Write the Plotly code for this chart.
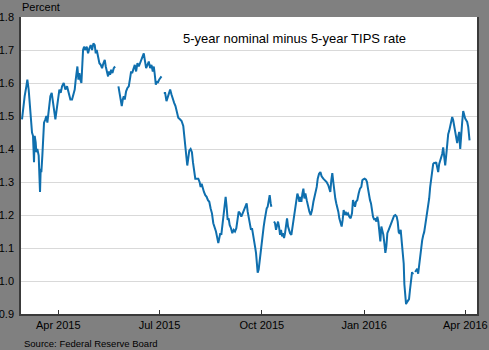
import pandas as pd
import plotly.graph_objects as go

base_date = "2015-04-01"
# observation time, days from 2015-04-01 (None values mark market holidays)
day_offset = [
    -32.6, -31.7, -30.2, -28.7, -27.8, -26.6, -25.7, -24.8, -24.2, -23.6, -22.7, -22.1, -21.8, -21.2,
    -20.3, -19.7, -18.8, -17.6, -17.0, -16.4, -15.8, -15.2, -14.3, -13.4, -12.8, -11.6, -10.7, -9.8,
    -8.6, -7.1, -5.9, -4.7, -3.8, -2.6, -1.4, -0.2, 1.0, 2.2, 3.4, 4.9, 6.4, 7.9, 9.4, 10.9, 12.4,
    13.6, 14.8, 15.7, 16.6, 17.2, 18.1, 19.0, 19.9, 20.8, 21.7, 22.3, 23.2, 24.4, 25.6, 26.8, 28.0,
    29.2, 30.4, 31.6, 32.8, 33.7, 34.6, 35.8, 37.0, 38.2, 39.4, 40.6, 41.8, 42.7, 43.9, 44.8, 45.7,
    46.6, 47.5, 48.7, 49.9, 51.1, 52.5, 54.1, 55.0, 55.9, 57.1, 58.0, 58.9, 59.8, 61.0, 62.2, 63.4,
    64.6, 65.5, 66.4, 67.6, 68.8, 70.0, 71.2, 72.4, 73.6, 74.8, 76.0, 76.9, 77.8, 79.0, 80.2, 81.4,
    82.6, 83.8, 85.0, 85.9, 86.8, 87.7, 88.6, 89.5, 90.7, 91.9, 92.8, 93.8, 94.9, 96.1, 97.3, 98.5,
    99.4, 100.6, 101.8, 103.0, 104.2, 105.4, 106.6, 107.9, 109.4, 110.9, 112.4, 113.3, 114.2, 115.1,
    116.0, 116.9, 117.8, 119.0, 120.2, 121.1, 122.0, 123.2, 124.4, 125.9, 127.1, 128.0, 128.9, 129.8,
    131.0, 132.2, 133.4, 134.6, 135.8, 137.0, 138.2, 139.4, 140.6, 141.8, 143.0, 143.9, 144.8, 145.7,
    146.6, 147.5, 148.4, 149.3, 150.5, 151.4, 152.3, 153.2, 154.1, 155.3, 156.5, 157.7, 158.9, 160.1,
    161.3, 162.2, 163.4, 164.6, 165.8, 167.0, 168.2, 169.4, 170.3, 171.5, 172.4, 173.3, 174.2, 175.1,
    176.0, 176.9, 177.8, 178.7, 179.3, 180.2, 181.1, 182.0, 182.9, 183.8, 184.7, 185.6, 186.5, 187.4,
    188.3, 189.2, 190.1, 191.0, 191.6, 192.8, 194.0, 194.9, 195.8, 196.7, 197.6, 198.5, 199.4, 200.3,
    201.2, 202.1, 203.0, 203.9, 204.8, 205.7, 206.6, 207.5, 208.4, 209.6, 210.8, 212.0, 213.2, 214.1,
    215.0, 215.9, 216.8, 217.7, 218.6, 219.5, 220.4, 221.3, 222.2, 223.4, 224.6, 225.8, 227.0, 228.2,
    229.4, 230.6, 231.5, 232.4, 233.3, 234.5, 235.7, 236.8, 238.3, 239.8, 241.3, 242.8, 243.7, 244.6,
    245.5, 246.4, 247.3, 248.2, 249.1, 250.0, 250.9, 251.8, 252.7, 253.9, 254.8, 255.7, 256.6, 257.5,
    258.4, 259.3, 260.5, 261.7, 262.9, 264.1, 265.0, 265.9, 266.8, 267.7, 268.9, 270.1, 271.3, 272.5,
    273.4, 274.3, 275.5, 276.7, 277.6, 278.5, 279.4, 280.3, 281.2, 282.1, 283.0, 284.2, 285.1, 286.0,
    286.9, 287.8, 288.7, 289.6, 290.5, 291.4, 292.3, 293.2, 294.1, 295.0, 295.9, 297.1, 298.3, 299.5,
    300.7, 301.9, 303.1, 304.3, 305.2, 306.1, 307.0, 307.9, 308.8, 309.7, 310.6, 311.2, 312.1, 312.7,
    313.6, 314.5, 315.4, 316.3, 317.2, 318.1, 319.0, 320.0, 320.9, 321.8, 322.7, 323.6, 324.5, 325.4,
    326.3, 327.2, 328.1, 329.0, 329.9, 330.8, 331.7, 332.6, 333.5, 334.4, 335.3, 336.2, 337.1, 338.0,
    338.9, 339.8, 340.7, 341.6, 342.5, 343.4, 344.3, 345.2, 346.1, 347.0, 347.9, 348.8, 349.7, 350.6,
    351.5, 352.4, 353.3, 354.2, 355.1, 356.0, 356.9, 357.8, 358.7, 359.6, 360.5, 361.4, 362.3, 363.2,
    364.1, 365.0, 365.9, 366.8, 367.7, 368.6, 369.5, 369.8,
]
spread = [
    1.49, 1.52, 1.56, 1.59, 1.61, 1.58, 1.54, 1.53, 1.50, 1.45, 1.44, 1.39, 1.36, 1.44,
    1.42, 1.39, 1.40, 1.38, 1.33, 1.27, 1.34, 1.33, 1.38, 1.46, 1.48, 1.49, 1.50, 1.48,
    1.52, 1.56, 1.57, 1.54, 1.51, 1.49, 1.52, 1.56, 1.58, 1.57, 1.59, 1.60, 1.58, 1.59, 1.57, 1.55, 1.55,
    1.57, 1.58, 1.61, 1.63, 1.65, 1.61, 1.63, 1.61, 1.60, 1.66, 1.70, 1.71, 1.70, 1.71, 1.69, 1.705,
    1.715, 1.70, 1.72, 1.715, 1.69, 1.70, 1.675, 1.66, 1.655, 1.645, 1.66, 1.67, 1.65, 1.635, 1.62, 1.635,
    1.625, 1.64, 1.63, 1.645, 1.65, None, 1.59, 1.57, 1.55, 1.53, 1.55, 1.56, 1.55, 1.575, 1.585, 1.59,
    1.615, 1.635, 1.63, 1.645, 1.655, 1.635, 1.66, 1.65, 1.66, 1.67, 1.68, 1.69, 1.67, 1.645, 1.655, 1.665,
    1.645, 1.655, 1.635, 1.65, 1.625, 1.595, 1.605, 1.60, 1.61, 1.615, 1.62, None, 1.57, 1.57, 1.545, 1.56,
    1.57, 1.58, 1.565, 1.55, 1.54, 1.53, 1.515, 1.495, 1.49, 1.485, 1.47, 1.445, 1.41, 1.38,
    1.35, 1.38, 1.395, 1.40, 1.39, 1.36, 1.33, 1.31, 1.31, 1.31, 1.30, 1.285, 1.295, 1.28,
    1.27, 1.26, 1.255, 1.245, 1.24, 1.22, 1.205, 1.175, 1.165, 1.15, 1.13, 1.115, 1.13, 1.145,
    1.14, 1.165, 1.195, 1.22, 1.255, 1.225, 1.185, 1.19, 1.17, 1.16, 1.145, 1.155, 1.15, 1.16,
    1.195, 1.21, 1.205, 1.195, 1.205, 1.215, 1.22, 1.235, 1.21, 1.185, 1.17, 1.155, 1.16, 1.145,
    1.125, 1.105, 1.085, 1.045, 1.025, 1.035, 1.065, 1.09, 1.12, 1.145, 1.165, 1.185, 1.21, 1.22,
    1.225, 1.245, 1.26, 1.235, 1.225, None, 1.18, 1.175, 1.155, 1.17, 1.18, 1.165, 1.14, 1.155,
    1.135, 1.145, 1.13, 1.145, 1.165, 1.19, 1.165, 1.15, 1.145, 1.14, 1.165, 1.19, 1.215, 1.245,
    1.265, 1.255, 1.24, 1.255, 1.24, 1.265, 1.28, 1.25, 1.265, 1.245, 1.225, 1.21, 1.20, 1.215,
    1.24, 1.255, 1.27, 1.285, 1.31, 1.325, 1.33, 1.317, 1.31, 1.305, 1.30, 1.29, 1.277, 1.27,
    1.305, 1.327, 1.30, 1.265, 1.25, 1.235, 1.225, 1.21, 1.19, 1.172, 1.165, 1.185, 1.215, 1.20,
    1.21, 1.20, 1.205, 1.195, 1.19, 1.205, 1.245, 1.235, 1.225, 1.24, 1.245, 1.265, 1.28, 1.285,
    1.305, 1.308, 1.31, 1.307, 1.30, 1.28, 1.255, 1.245, 1.235, 1.215, 1.195, 1.185, 1.19, 1.18,
    1.195, 1.18, 1.145, 1.12, 1.165, 1.155, 1.14, 1.115, 1.085, 1.105, 1.145, 1.155, 1.165, 1.175,
    1.185, 1.197, 1.20, 1.195, 1.18, 1.148, 1.143, 1.155, 1.12, 1.088, 1.053, 0.99, 0.95, 0.93,
    0.936, 0.94, 0.945, 0.975, 1.01, 1.027, 1.02, None, 1.027, 1.032, 1.037, 1.022, 1.047, 1.083,
    1.113, 1.123, 1.138, 1.148, 1.168, 1.19, 1.204, 1.224, 1.25, 1.285, 1.315, 1.345, 1.355, 1.358,
    1.357, 1.36, 1.345, 1.33, 1.355, 1.365, 1.375, 1.385, 1.405, 1.37, 1.35, 1.38, 1.415, 1.445,
    1.455, 1.47, 1.48, 1.497, 1.487, 1.467, 1.445, 1.43, 1.418, 1.437, 1.452, 1.40, 1.43, 1.482,
    1.515, 1.502, 1.492, 1.487, 1.482, 1.467, 1.43, 1.426,
]
tick_dates = ["2015-04-01", "2015-07-01", "2015-10-01", "2016-01-01", "2016-04-01"]
tick_labels = ["Apr 2015", "Jul 2015", "Oct 2015", "Jan 2016", "Apr 2016"]
y_ticks = [0.9, 1.0, 1.1, 1.2, 1.3, 1.4, 1.5, 1.6, 1.7, 1.8]

dates = pd.Timestamp(base_date) + pd.to_timedelta(day_offset, unit="D")

fig = go.Figure()
fig.add_trace(go.Scatter(
    x=dates, y=spread, mode="lines", connectgaps=False,
    line=dict(color="#0f6fae", width=2), showlegend=False,
))

FONT = "Liberation Sans, Arial, sans-serif"
fig.update_layout(
    width=489, height=350,
    margin=dict(l=21, r=12, t=17, b=36),
    paper_bgcolor="#808080", plot_bgcolor="#ffffff",
    font=dict(family=FONT, color="#000000", size=12),
    xaxis=dict(
        type="date", range=["2015-02-26 12:00", "2016-04-11 12:00"],
        tickvals=tick_dates, ticktext=tick_labels, automargin=False,
        ticks="inside", ticklen=4, tickcolor="#333333",
        showgrid=False, zeroline=False,
        showline=True, linecolor="#3a3a3a", linewidth=1.5,
        tickfont=dict(size=11, family=FONT),
    ),
    yaxis=dict(
        range=[0.9, 1.8], tickvals=y_ticks, ticktext=[f"{v:.1f}" for v in y_ticks],
        ticks="", showgrid=True, gridcolor="#d9d9d9", gridwidth=1, automargin=False,
        zeroline=False, showline=True, mirror=True, linecolor="#3a3a3a", linewidth=1.5,
        tickfont=dict(size=11, family=FONT), ticklabelstandoff=3,
    ),
    annotations=[
        dict(text="5-year nominal minus 5-year TIPS rate", xref="paper", yref="paper",
             x=0.599, y=0.929, showarrow=False, xanchor="center", yanchor="middle",
             font=dict(size=13, family=FONT, color="#000000")),
        dict(text="Percent", xref="paper", yref="paper", x=-0.002, y=1.034,
             showarrow=False, xanchor="left", yanchor="middle",
             font=dict(size=11, family=FONT, color="#000000")),
        dict(text="Source: Federal Reserve Board", xref="paper", yref="paper",
             x=0.002, y=-0.098, showarrow=False, xanchor="left", yanchor="middle",
             font=dict(size=9.5, family=FONT, color="#000000")),
    ],
)
fig.write_html("out.html")
